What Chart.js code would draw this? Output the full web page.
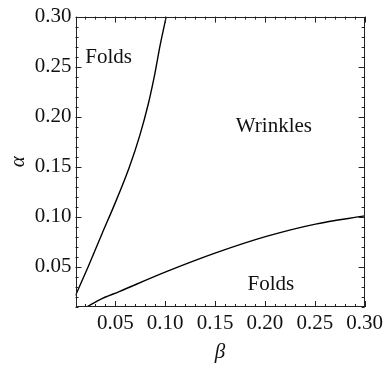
<!DOCTYPE html>
<html>
<head>
<meta charset="utf-8">
<script src="https://cdn.jsdelivr.net/npm/chart.js@4.4.1/dist/chart.umd.min.js"></script>
<style>
  html, body { margin: 0; padding: 0; background: #fff; }
  #wrap { width: 387px; height: 367px; }
</style>
</head>
<body>
<div id="wrap"><canvas id="c" width="387" height="367"></canvas></div>
<script>
// Phase boundaries in the (beta, alpha) plane
const foldBoundaryBeta  = [0.0100, 0.0226, 0.0365, 0.0490, 0.0636, 0.0745, 0.0833, 0.0890, 0.0950, 0.1010];
const foldBoundaryAlpha = [0.0214, 0.0500, 0.0830, 0.1120, 0.1485, 0.1814, 0.2140, 0.2400, 0.2720, 0.3000];

const wrinkleBoundaryBeta  = [0.0210, 0.0341, 0.0538, 0.1030, 0.1520, 0.2014, 0.2507, 0.3000];
const wrinkleBoundaryAlpha = [0.0100, 0.0172, 0.0254, 0.0460, 0.0645, 0.0805, 0.0928, 0.1010];

// Axis ranges and tick marks
const betaRange  = [0.01, 0.30];
const alphaRange = [0.01, 0.30];
const majorTicks = [0.05, 0.10, 0.15, 0.20, 0.25, 0.30];
const minorTicks = [0.01, 0.02, 0.03, 0.04, 0.06, 0.07, 0.08, 0.09, 0.11, 0.12, 0.13, 0.14,
                    0.16, 0.17, 0.18, 0.19, 0.21, 0.22, 0.23, 0.24, 0.26, 0.27, 0.28, 0.29];

// Region annotations: text, beta, alpha (baseline position)
const regionLabels = ['Folds', 'Wrinkles', 'Folds'];
const regionBeta   = [0.0433, 0.209, 0.206];
const regionAlpha  = [0.2536, 0.1847, 0.0271];

const SERIF = '"Liberation Serif", "Times New Roman", Times, serif';
const FONT_SIZE = 21;

const toPoints = (xs, ys) => xs.map((x, i) => ({ x: x, y: ys[i] }));

// Frame with inward ticks on all four sides plus region labels
const framePlugin = {
  id: 'frame',
  afterDatasetsDraw(chart) {
    const { ctx, chartArea: a, scales } = chart;
    const xs = scales.x, ys = scales.y;
    ctx.save();
    ctx.strokeStyle = '#222';
    ctx.lineWidth = 1;
    ctx.strokeRect(Math.round(a.left) + 0.5, Math.round(a.top) + 0.5,
                   Math.round(a.right - a.left) - 1, Math.round(a.bottom - a.top) - 1);
    const drawTicks = (vals, len) => {
      ctx.beginPath();
      vals.forEach(v => {
        const px = Math.round(xs.getPixelForValue(v)) + 0.5;
        ctx.moveTo(px, a.bottom); ctx.lineTo(px, a.bottom - len);
        ctx.moveTo(px, a.top);    ctx.lineTo(px, a.top + len);
        const py = Math.round(ys.getPixelForValue(v)) + 0.5;
        ctx.moveTo(a.left, py);  ctx.lineTo(a.left + len, py);
        ctx.moveTo(a.right, py); ctx.lineTo(a.right - len, py);
      });
      ctx.stroke();
    };
    drawTicks(majorTicks, 6);
    drawTicks(minorTicks, 3);

    ctx.fillStyle = '#111';
    ctx.font = FONT_SIZE + 'px ' + SERIF;
    ctx.textAlign = 'center';
    ctx.textBaseline = 'alphabetic';
    regionLabels.forEach((t, i) => {
      ctx.fillText(t, xs.getPixelForValue(regionBeta[i]), ys.getPixelForValue(regionAlpha[i]));
    });
    ctx.restore();
  }
};

const lineStyle = {
  showLine: true,
  borderColor: '#000',
  borderWidth: 1.4,
  pointRadius: 0,
  fill: false,
  cubicInterpolationMode: 'monotone'
};

new Chart(document.getElementById('c'), {
  type: 'scatter',
  data: {
    datasets: [
      Object.assign({ label: 'fold boundary', data: toPoints(foldBoundaryBeta, foldBoundaryAlpha) }, lineStyle),
      Object.assign({ label: 'wrinkle boundary', data: toPoints(wrinkleBoundaryBeta, wrinkleBoundaryAlpha) }, lineStyle)
    ]
  },
  options: {
    responsive: false,
    animation: false,
    clip: true,
    layout: { padding: { top: 13, right: 17, left: 0, bottom: 0 } },
    plugins: { legend: { display: false }, tooltip: { enabled: false } },
    scales: {
      x: {
        type: 'linear',
        min: betaRange[0], max: betaRange[1],
        grid: { display: false, drawTicks: false },
        border: { display: false },
        afterBuildTicks: s => { s.ticks = majorTicks.map(v => ({ value: v })); },
        afterFit: s => { s.height = 60; },
        ticks: {
          padding: 4,
          color: '#111',
          font: { family: SERIF, size: FONT_SIZE },
          maxRotation: 0,
          callback: v => Number(v).toFixed(2)
        },
        title: {
          display: true, text: 'β', color: '#111',
          font: { family: SERIF, size: FONT_SIZE, style: 'italic' },
          padding: { top: 0, bottom: 2 }
        }
      },
      y: {
        type: 'linear',
        min: alphaRange[0], max: alphaRange[1],
        grid: { display: false, drawTicks: false },
        border: { display: false },
        afterBuildTicks: s => { s.ticks = majorTicks.map(v => ({ value: v })); },
        afterFit: s => { s.width = 75.5; },
        ticks: {
          padding: 4,
          color: '#111',
          font: { family: SERIF, size: FONT_SIZE },
          callback: v => Number(v).toFixed(2)
        },
        title: {
          display: true, text: 'α', color: '#111',
          font: { family: SERIF, size: FONT_SIZE, style: 'italic' },
          padding: { top: 6, bottom: 0 }
        }
      }
    }
  },
  plugins: [framePlugin]
});
</script>
</body>
</html>
